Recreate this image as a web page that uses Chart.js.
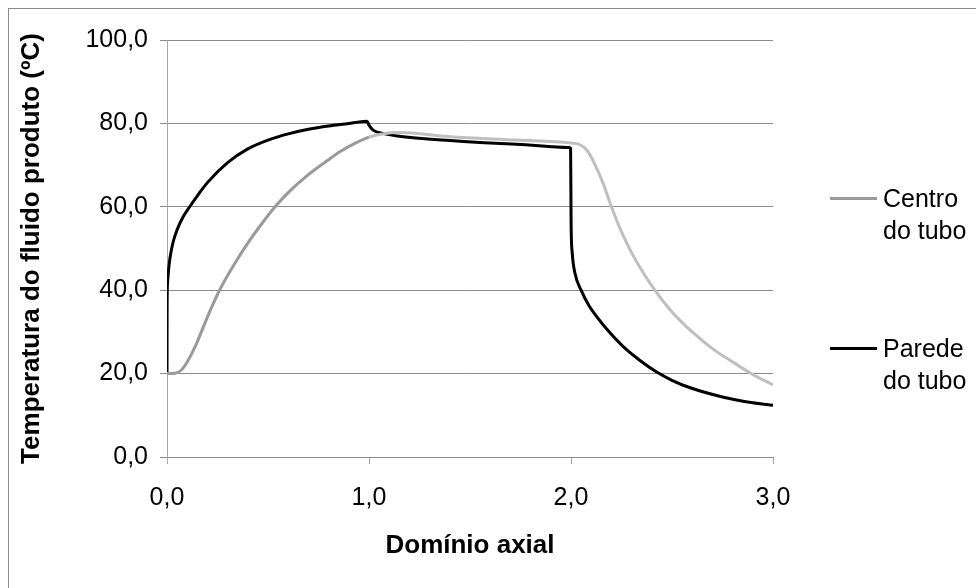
<!DOCTYPE html>
<html>
<head>
<meta charset="utf-8">
<script src="https://cdn.jsdelivr.net/npm/chart.js@4.4.1/dist/chart.umd.min.js"></script>
<style>
  html, body { margin: 0; padding: 0; background: #fff; overflow: hidden; }
  #wrap { position: relative; width: 976px; height: 588px; overflow: hidden; }
  #frame { position: absolute; left: 8px; top: 8px; width: 990px; height: 600px; border: 1px solid #8c8c8c; box-sizing: border-box; }
  canvas { position: absolute; left: 0; top: 0; }
  .leg { position: absolute; left: 830px; font: 25px 'Liberation Sans', Arial, sans-serif; color: #000; }
  .leg .swatch { position: absolute; left: 0; width: 47px; height: 3px; }
  .leg .txt { position: absolute; left: 53px; line-height: 32px; white-space: nowrap; }
</style>
</head>
<body>
<div id="wrap">
  <div id="frame"></div>
  <canvas id="chart" width="976" height="588"></canvas>
  <div id="legend"></div>
</div>
<script>
// Centro do tubo (x = domínio axial, y = temperatura ºC)
const centroX = [0, 0.04, 0.07, 0.10, 0.14, 0.18, 0.22, 0.26, 0.33, 0.40, 0.47, 0.535, 0.60, 0.70, 0.80, 0.86, 0.93, 1.00, 1.08, 1.15, 1.40, 1.73, 2.00, 2.04, 2.08, 2.12, 2.16, 2.20, 2.25, 2.30, 2.36, 2.415, 2.50, 2.60, 2.70, 2.80, 2.90, 3.00];
const centroY = [20, 20.1, 20.8, 22.8, 26.5, 31.2, 35.8, 40.0, 46.0, 51.3, 56.0, 60.0, 63.4, 67.7, 71.3, 73.3, 75.2, 76.7, 77.6, 77.8, 76.8, 76.0, 75.3, 75.0, 73.5, 70.0, 65.5, 60.0, 54.0, 49.0, 44.0, 40.0, 34.8, 30.0, 26.0, 22.8, 19.8, 17.3];

// Parede do tubo
const paredeX = [0, 0.0005, 0.003, 0.008, 0.015, 0.03, 0.05, 0.08, 0.115, 0.16, 0.20, 0.30, 0.40, 0.50, 0.60, 0.70, 0.80, 0.90, 0.96, 0.99, 1.00, 1.02, 1.07, 1.14, 1.40, 1.73, 1.99, 1.998, 2.0005, 2.006, 2.02, 2.05, 2.09, 2.13, 2.18, 2.26, 2.34, 2.42, 2.50, 2.59, 2.75, 2.90, 3.00];
const paredeY = [20, 36, 42.0, 45.0, 47.8, 51.5, 54.5, 57.6, 60.2, 63.3, 65.8, 70.6, 73.9, 76.0, 77.5, 78.6, 79.4, 80.0, 80.4, 80.5, 79.6, 78.4, 77.6, 77.0, 75.9, 75.0, 74.2, 74.0, 56.0, 49.0, 44.0, 40.0, 36.2, 33.5, 30.5, 26.4, 23.2, 20.5, 18.4, 16.6, 14.4, 13.0, 12.4];

const seriesLabels = ['Centro\ndo tubo', 'Parede\ndo tubo'];
const xTicks = [0, 1, 2, 3];
const yTicks = [0, 20, 40, 60, 80, 100];

const FONT = "'Liberation Sans', Arial, sans-serif";
Chart.defaults.font.family = FONT;
Chart.defaults.color = '#000';

function toPoints(xs, ys) {
  return xs.map((x, i) => ({ x, y: ys[i] }));
}

function fmt(v) {
  return v.toFixed(1).replace('.', ',');
}

const CENTRO_DARK = '#9a9a9a';
const CENTRO_LIGHT = '#bfbfbf';

const chart = new Chart(document.getElementById('chart'), {
  type: 'line',
  data: {
    datasets: [
      {
        label: seriesLabels[0],
        data: toPoints(centroX, centroY),
        borderColor: CENTRO_DARK,
        borderWidth: 3,
        pointRadius: 0,
        cubicInterpolationMode: 'monotone',
        segment: {
          borderColor: (ctx) => (ctx.p0.parsed.x < 1 ? CENTRO_DARK : CENTRO_LIGHT),
        },
      },
      {
        label: seriesLabels[1],
        data: toPoints(paredeX, paredeY),
        borderColor: '#000',
        borderWidth: 3,
        pointRadius: 0,
        cubicInterpolationMode: 'monotone',
      },
    ],
  },
  options: {
    responsive: false,
    animation: false,
    layout: { padding: { left: 0, top: 40, right: 203, bottom: 0 } },
    plugins: {
      legend: { display: false },
      tooltip: { enabled: false },
    },
    scales: {
      x: {
        type: 'linear',
        min: 0,
        max: 3,
        afterBuildTicks: (scale) => { scale.ticks = xTicks.map((v) => ({ value: v })); },
        afterFit: (scale) => { scale.height = 131; },
        ticks: {
          font: { size: 25 },
          padding: 19,
          maxRotation: 0,
          callback: (v) => fmt(v),
        },
        grid: { drawOnChartArea: false, drawTicks: true, tickLength: 7, color: '#a6a6a6' },
        border: { display: true, color: '#8c8c8c' },
        title: {
          display: true,
          text: 'Domínio axial',
          font: { size: 26, weight: 'bold' },
          padding: { top: 0, bottom: 27 },
        },
      },
      y: {
        min: 0,
        max: 100,
        afterBuildTicks: (scale) => { scale.ticks = yTicks.map((v) => ({ value: v })); },
        afterFit: (scale) => { scale.width = 167; },
        ticks: {
          font: { size: 25 },
          padding: 12,
          callback: (v) => fmt(v),
        },
        grid: { color: '#8c8c8c', tickLength: 7 },
        border: { display: true, color: '#a6a6a6' },
        title: {
          display: true,
          text: 'Temperatura do fluido produto (ºC)',
          font: { size: 26, weight: 'bold' },
          padding: { top: 16, bottom: 0 },
        },
      },
    },
  },
});

// Legend, built from the datasets
const legendTops = [198, 348];
const legendEl = document.getElementById('legend');
chart.data.datasets.forEach((ds, i) => {
  const item = document.createElement('div');
  item.className = 'leg';
  item.style.top = legendTops[i] + 'px';
  const sw = document.createElement('div');
  sw.className = 'swatch';
  sw.style.top = '-1px';
  sw.style.background = ds.borderColor;
  const txt = document.createElement('div');
  txt.className = 'txt';
  txt.style.top = '-16px';
  txt.innerHTML = ds.label.split('\n').join('<br>');
  item.appendChild(sw);
  item.appendChild(txt);
  legendEl.appendChild(item);
});
</script>
</body>
</html>
